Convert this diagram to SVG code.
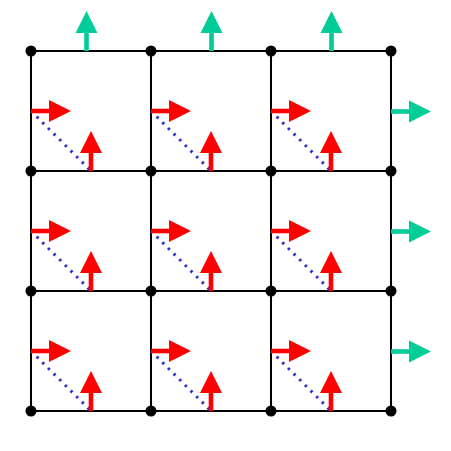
<svg xmlns="http://www.w3.org/2000/svg" width="451" height="451" viewBox="0 0 451 451">
<defs>
<style>
.grid{stroke:#000;stroke-width:2;fill:none}
.v{fill:#000}
.red{fill:#ff0000}
.grn{fill:#00cc99}
.dot{stroke:#3333cc;stroke-width:3;stroke-dasharray:2.5 5.5;fill:none}
</style>
<g id="ah"><rect x="0" y="-2.3" width="19" height="4.6"/><polygon points="18,-11 40,0 18,11"/></g>
<g id="av"><rect x="-2.3" y="-19" width="4.6" height="19"/><polygon points="-11,-18 0,-40 11,-18"/></g>
<g id="cell">
<line class="dot" x1="31" y1="111" x2="91" y2="171"/>
<use href="#ah" x="31" y="111" class="red"/>
<use href="#av" x="91" y="171" class="red"/>
</g>
</defs>
<g id="connectors">
<path class="grid" d="M31,51H391M31,171H391M31,291H391M31,411H391M31,51V411M151,51V411M271,51V411M391,51V411"/>
</g>
<g id="cells">
<use href="#cell" x="0" y="0"/><use href="#cell" x="120" y="0"/><use href="#cell" x="240" y="0"/>
<use href="#cell" x="0" y="120"/><use href="#cell" x="120" y="120"/><use href="#cell" x="240" y="120"/>
<use href="#cell" x="0" y="240"/><use href="#cell" x="120" y="240"/><use href="#cell" x="240" y="240"/>
</g>
<g id="boundary" class="grn">
<use href="#av" x="86.5" y="51"/><use href="#av" x="211.5" y="51"/><use href="#av" x="331.5" y="51"/>
<use href="#ah" x="391" y="111.5"/><use href="#ah" x="391" y="231.5"/><use href="#ah" x="391" y="351.5"/>
</g>
<g id="vertices" class="v">
<circle cx="31" cy="51" r="5.5"/><circle cx="151" cy="51" r="5.5"/><circle cx="271" cy="51" r="5.5"/><circle cx="391" cy="51" r="5.5"/>
<circle cx="31" cy="171" r="5.5"/><circle cx="151" cy="171" r="5.5"/><circle cx="271" cy="171" r="5.5"/><circle cx="391" cy="171" r="5.5"/>
<circle cx="31" cy="291" r="5.5"/><circle cx="151" cy="291" r="5.5"/><circle cx="271" cy="291" r="5.5"/><circle cx="391" cy="291" r="5.5"/>
<circle cx="31" cy="411" r="5.5"/><circle cx="151" cy="411" r="5.5"/><circle cx="271" cy="411" r="5.5"/><circle cx="391" cy="411" r="5.5"/>
</g>
</svg>
